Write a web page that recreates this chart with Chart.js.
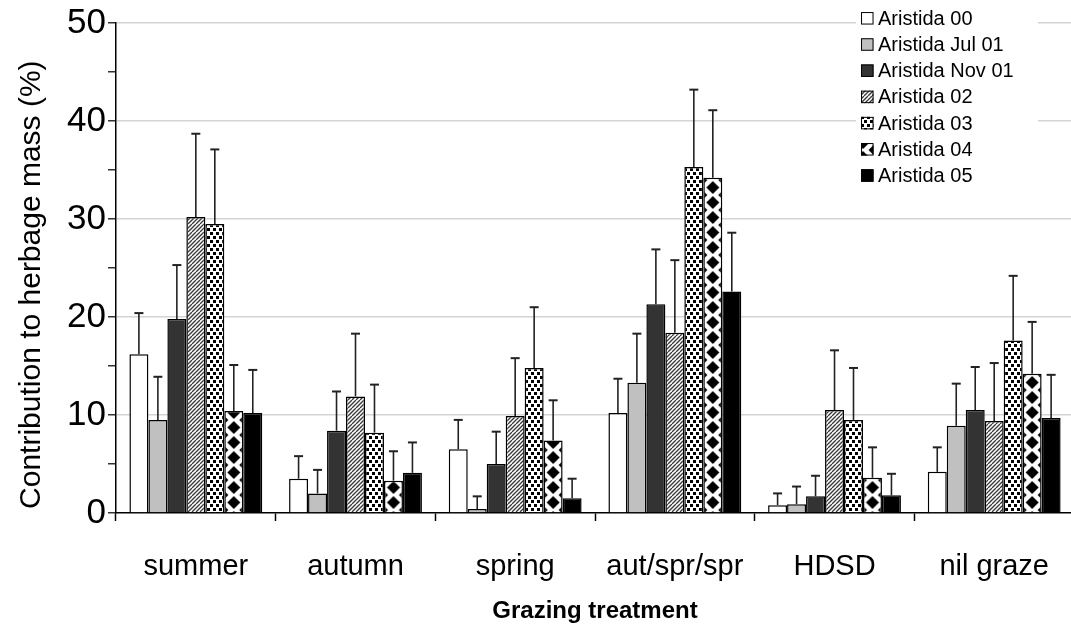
<!DOCTYPE html>
<html>
<head>
<meta charset="utf-8">
<script src="https://cdn.jsdelivr.net/npm/chart.js@4/dist/chart.umd.min.js"></script>
<style>
  html, body { margin: 0; padding: 0; background: #fff; overflow: hidden; }
  #wrap { width: 1078px; height: 630px; position: relative; }
</style>
</head>
<body>
<div id="wrap"><canvas id="c" width="1078" height="630"></canvas></div>
<script>
// Grazing treatments (x categories)
const categories = ['summer', 'autumn', 'spring', 'aut/spr/spr', 'HDSD', 'nil graze'];

// Series names
const seriesNames = ['Aristida 00', 'Aristida Jul 01', 'Aristida Nov 01', 'Aristida 02',
                     'Aristida 03', 'Aristida 04', 'Aristida 05'];

// Mean contribution to herbage mass (%)
const aristida00   = [16.2, 3.5, 6.5, 10.2, 0.8, 4.2];
const aristidaJul01 = [9.5, 2.0, 0.4, 13.3, 0.9, 8.9];
const aristidaNov01 = [19.8, 8.4, 5.0, 21.3, 1.7, 10.5];
const aristida02   = [30.2, 11.9, 9.9, 18.4, 10.5, 9.4];
const aristida03   = [29.5, 8.2, 14.8, 35.3, 9.5, 17.6];
const aristida04   = [10.4, 3.3, 7.4, 34.2, 3.6, 14.2];
const aristida05   = [10.2, 4.1, 1.5, 22.6, 1.8, 9.7];

// Standard errors (upper bars)
const err00    = [4.2, 2.3, 3.0, 3.5, 1.2, 2.5];
const errJul01 = [4.4, 2.4, 1.3, 5.0, 1.8, 4.3];
const errNov01 = [5.5, 4.0, 3.3, 5.6, 2.1, 4.4];
const err02    = [8.5, 6.4, 5.9, 7.4, 6.1, 5.9];
const err03    = [7.6, 4.9, 6.2, 7.9, 5.3, 6.6];
const err04    = [4.7, 3.0, 4.1, 6.9, 3.1, 5.3];
const err05    = [4.4, 3.1, 2.0, 6.0, 2.2, 4.4];

// Y axis range and labelled ticks
const yMin = 0, yMax = 50, yMinorStep = 5, yLabelStep = 10;

const FONT = "'Liberation Sans', Arial, Helvetica, sans-serif";
const CAT_PCT = 0.832;

// ---- fill patterns ----
function makeTile(w, h, draw) {
  const t = document.createElement('canvas');
  t.width = w; t.height = h;
  const g = t.getContext('2d');
  g.fillStyle = '#fff';
  g.fillRect(0, 0, w, h);
  draw(g);
  return t;
}
const diagTile = makeTile(8, 8, g => {
  g.strokeStyle = '#3a3a3a';
  g.lineWidth = 1.3;
  for (let k = -8; k <= 8; k += 4) {
    g.beginPath(); g.moveTo(k, 8); g.lineTo(k + 8, 0); g.stroke();
  }
});
const dotTile = makeTile(6, 8, g => {
  g.fillStyle = '#000';
  g.fillRect(0, 0, 3, 3);
  g.fillRect(3, 4, 3, 3);
});
const DIA_W = 24, DIA_H = 15, DIA_R = 6.5;
const diamondTile = makeTile(DIA_W, DIA_H, g => {
  g.fillStyle = '#000';
  const d = (cx, cy) => {
    g.beginPath();
    g.moveTo(cx, cy - DIA_R); g.lineTo(cx + DIA_R, cy); g.lineTo(cx, cy + DIA_R); g.lineTo(cx - DIA_R, cy);
    g.closePath(); g.fill();
  };
  d(DIA_W / 2, DIA_H / 2); d(0, 0); d(DIA_W, 0); d(0, DIA_H); d(DIA_W, DIA_H);
});

const ctx = document.getElementById('c').getContext('2d');
const diagPattern = ctx.createPattern(diagTile, 'repeat');
const dotPattern = ctx.createPattern(dotTile, 'repeat');

function diamondAt(cx) {
  const p = ctx.createPattern(diamondTile, 'repeat');
  p.setTransform(new DOMMatrix().translate(cx - DIA_W / 2, 0));
  return p;
}

// diamond fill centred on each bar of its series
function diamondFill(c) {
  const xs = c.chart.scales && c.chart.scales.x;
  if (c.type !== 'data' || !xs) return diamondAt(0);
  const catW = xs.width / categories.length;
  const barW = catW * CAT_PCT / seriesNames.length;
  const cx = xs.getPixelForValue(c.dataIndex) + (c.datasetIndex - (seriesNames.length - 1) / 2) * barW;
  return diamondAt(cx);
}

const seriesValues = [aristida00, aristidaJul01, aristidaNov01, aristida02, aristida03, aristida04, aristida05];
const seriesErrors = [err00, errJul01, errNov01, err02, err03, err04, err05];
const seriesFills = ['#ffffff', '#c0c0c0', '#333333', diagPattern, dotPattern, diamondFill, '#000000'];

const datasets = seriesNames.map((name, i) => ({
  label: name,
  data: seriesValues[i],
  errors: seriesErrors[i],
  backgroundColor: seriesFills[i],
  borderColor: '#000',
  borderWidth: 1.5,
  barPercentage: 1.0,
  categoryPercentage: CAT_PCT
}));

// upper error bars with caps
const errorBars = {
  id: 'errorBars',
  afterDatasetsDraw(chart) {
    const g = chart.ctx, ys = chart.scales.y;
    g.save();
    g.strokeStyle = '#222';
    chart.data.datasets.forEach((ds, i) => {
      chart.getDatasetMeta(i).data.forEach((el, j) => {
        const top = ys.getPixelForValue(ds.data[j] + ds.errors[j]);
        g.lineWidth = 1.6;
        g.beginPath(); g.moveTo(el.x, el.y); g.lineTo(el.x, top); g.stroke();
        g.lineWidth = 2;
        g.beginPath(); g.moveTo(el.x - 4.5, top); g.lineTo(el.x + 4.5, top); g.stroke();
      });
    });
    g.restore();
  }
};

// boxed legend in the upper right corner
const boxLegend = {
  id: 'boxLegend',
  afterDraw(chart) {
    const g = chart.ctx;
    const area = chart.chartArea;
    const x0 = area.right - 213, y0 = 5, rowH = 26.2, box = 12.5;
    g.save();
    g.fillStyle = '#fff';
    g.fillRect(x0 - 5, y0 - 2, 182, 187);
    g.font = '20px ' + FONT;
    g.textBaseline = 'middle';
    chart.data.datasets.forEach((ds, i) => {
      const cy = y0 + 13.3 + i * rowH;
      const bx = x0, by = cy - box / 2;
      let fill = ds.backgroundColor;
      if (typeof fill === 'function') fill = diamondAt(bx + 2);
      g.fillStyle = fill;
      g.fillRect(bx, by, box, box);
      g.strokeStyle = '#000';
      g.lineWidth = 1;
      g.strokeRect(bx + 0.5, by + 0.5, box - 1, box - 1);
      g.fillStyle = '#000';
      g.fillText(ds.label, bx + 17, cy + 1);
    });
    g.restore();
  }
};

new Chart(ctx, {
  type: 'bar',
  data: { labels: categories, datasets },
  plugins: [errorBars, boxLegend],
  options: {
    responsive: false,
    animation: false,
    events: [],
    layout: { padding: { left: 0, right: 0, top: 22, bottom: 0 } },
    plugins: { legend: { display: false }, tooltip: { enabled: false } },
    scales: {
      x: {
        afterFit(s) { s.height = 117; },
        grid: { offset: true, drawOnChartArea: false, drawTicks: true, tickLength: 8, tickColor: '#000', tickWidth: 1.5 },
        border: { color: '#000', width: 1.5 },
        ticks: { color: '#000', font: { family: FONT, size: 29 }, padding: 29, maxRotation: 0, autoSkip: false },
        title: { display: true, text: 'Grazing treatment', color: '#000',
                 font: { family: FONT, size: 24, weight: 'bold' }, padding: { top: 0, bottom: 4 } }
      },
      y: {
        min: yMin, max: yMax,
        afterFit(s) { s.width = 116; },
        grid: {
          color: c => (c.tick && c.tick.value % yLabelStep === 0 && c.tick.value > yMin) ? '#d4d4d4' : 'rgba(0,0,0,0)',
          lineWidth: 1.6,
          drawTicks: true, tickLength: 8, tickColor: '#000', tickWidth: 1.2
        },
        border: { color: '#000', width: 1.5 },
        ticks: {
          stepSize: yMinorStep, color: '#000', padding: 2,
          font: { family: FONT, size: 35 },
          callback: v => (v % yLabelStep === 0 ? String(v) : '')
        },
        title: { display: true, text: 'Contribution to herbage mass (%)    ', color: '#000',
                 font: { family: FONT, size: 30 }, padding: { top: 14, bottom: 0 } }
      }
    }
  }
});
</script>
</body>
</html>
